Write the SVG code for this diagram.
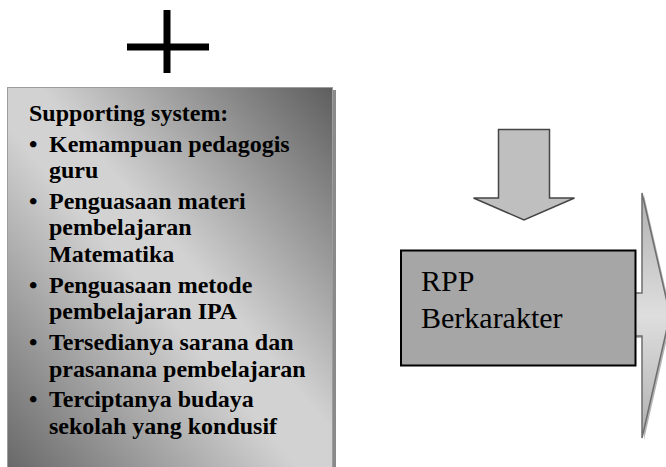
<svg xmlns="http://www.w3.org/2000/svg" width="666" height="467" viewBox="0 0 666 467">
<defs>
<linearGradient id="boxGrad" x1="1" y1="0" x2="0" y2="1">
<stop offset="0" stop-color="#5e5e5e"/>
<stop offset="0.45" stop-color="#d2d2d2"/>
<stop offset="0.55" stop-color="#d2d2d2"/>
<stop offset="1" stop-color="#686868"/>
</linearGradient>
<linearGradient id="arrowGrad" x1="0" y1="0" x2="0" y2="1">
<stop offset="0" stop-color="#b0b0b0"/>
<stop offset="0.5" stop-color="#dedede"/>
<stop offset="1" stop-color="#b0b0b0"/>
</linearGradient>
<style>
.t{font-family:"Liberation Serif","Times New Roman",serif;font-size:24px;font-weight:bold;fill:#000}
.r{font-family:"Liberation Serif","Times New Roman",serif;font-size:30px;fill:#000}
</style>
</defs>
<g id="plus">
<rect x="127" y="43.5" width="82" height="7" fill="#000"/>
<rect x="163.5" y="10" width="7" height="63" fill="#000"/>
</g>
<g id="supporting">
<rect x="10" y="90" width="326" height="380" fill="#8a8a8a"/>
<rect x="7.5" y="87.5" width="325" height="382" fill="url(#boxGrad)" stroke="#9c9c9c" stroke-width="1"/>
<text class="t" x="29" y="120.5">Supporting system:</text>
<text class="t" x="29" y="151.5">•</text>
<text class="t" x="49" y="151.5">Kemampuan pedagogis</text>
<text class="t" x="49" y="178">guru</text>
<text class="t" x="29" y="208.5">•</text>
<text class="t" x="49" y="208.5">Penguasaan materi</text>
<text class="t" x="49" y="235">pembelajaran</text>
<text class="t" x="49" y="261.5">Matematika</text>
<text class="t" x="29" y="292.5">•</text>
<text class="t" x="49" y="292.5">Penguasaan metode</text>
<text class="t" x="49" y="319">pembelajaran IPA</text>
<text class="t" x="29" y="350">•</text>
<text class="t" x="49" y="350">Tersedianya sarana dan</text>
<text class="t" x="49" y="376.5">prasanana pembelajaran</text>
<text class="t" x="29" y="407">•</text>
<text class="t" x="49" y="407">Terciptanya budaya</text>
<text class="t" x="49" y="433.5">sekolah yang kondusif</text>
</g>
<g id="connectors">
<polygon points="498.5,129.5 549.5,129.5 549.5,198 574.5,198 524,220 473.5,198 498.5,198" fill="#bfbfbf" stroke="#454545" stroke-width="1.5"/>
<polygon points="630,295 644,295 644,195 672,317 644,440 644,338 630,338" fill="#b4b4b4"/>
<polygon points="630,293 642,293 642,193 670,315 642,438 642,336 630,336" fill="url(#arrowGrad)" stroke="#6e6e6e" stroke-width="1.5"/>
</g>
<g id="rpp">
<rect x="401" y="250.5" width="234.5" height="115" fill="#a6a6a6" stroke="#000" stroke-width="2"/>
<text class="r" x="421" y="291">RPP</text>
<text class="r" x="421" y="328">Berkarakter</text>
</g>
</svg>
